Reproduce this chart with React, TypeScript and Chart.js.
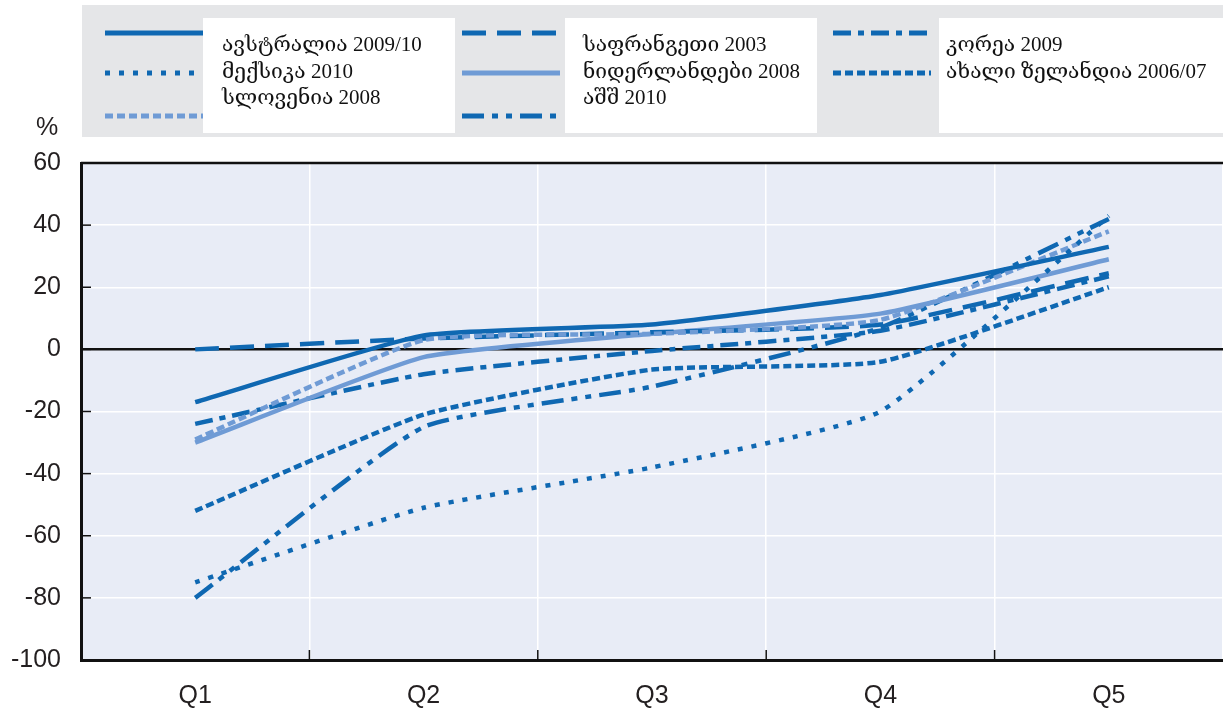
import React, { useEffect, useRef } from 'react';
import { Chart, registerables } from 'chart.js';
Chart.register(...registerables);

// ---- data ----
const categories = ['Q1', 'Q2', 'Q3', 'Q4', 'Q5'];
const australia = [-17, 4.5, 8, 17.5, 33];
const mexico = [-75, -51, -38, -20, 43];
const slovenia = [-29, 3, 5, 9.5, 38];
const france = [0, 3.5, 5.5, 8, 24.5];
const netherlands = [-30, -2.5, 5, 11.5, 29];
const usa = [-80, -25, -12, 7, 42];
const korea = [-24, -8, -0.5, 6, 23.5];
const newZealand = [-52, -21, -6.5, -4, 20];
const yMin = -100;
const yMax = 60;
const yStep = 20;
const unitLabel = '%';

const labels = {
  australia: 'ავსტრალია 2009/10',
  mexico: 'მექსიკა 2010',
  slovenia: 'სლოვენია 2008',
  france: 'საფრანგეთი 2003',
  netherlands: 'ნიდერლანდები 2008',
  usa: 'აშშ 2010',
  korea: 'კორეა 2009',
  newZealand: 'ახალი ზელანდია 2006/07',
};

const DARK = '#0f68b2';
const LIGHT = '#6f9bd5';
const AXIS_FONT = '"Liberation Sans Narrow", "Liberation Sans", Arial, sans-serif';

type S = { key: keyof typeof labels; data: number[]; color: string; dash: number[] };
const series: S[] = [
  { key: 'australia', data: australia, color: DARK, dash: [] },
  { key: 'mexico', data: mexico, color: DARK, dash: [5, 9] },
  { key: 'slovenia', data: slovenia, color: LIGHT, dash: [8, 4] },
  { key: 'france', data: france, color: DARK, dash: [24, 11] },
  { key: 'netherlands', data: netherlands, color: LIGHT, dash: [] },
  { key: 'usa', data: usa, color: DARK, dash: [22, 8, 6, 8, 6, 8] },
  { key: 'korea', data: korea, color: DARK, dash: [18, 7, 6, 7] },
  { key: 'newZealand', data: newZealand, color: DARK, dash: [8, 4] },
];

const legendColumns: (keyof typeof labels)[][] = [
  ['australia', 'mexico', 'slovenia'],
  ['france', 'netherlands', 'usa'],
  ['korea', 'newZealand'],
];

const decorPlugin = {
  id: 'decor',
  beforeDraw(chart: any) {
    const { ctx, chartArea: a } = chart;
    ctx.save();
    ctx.fillStyle = '#ffffff';
    ctx.fillRect(0, 0, chart.width, chart.height);
    ctx.fillStyle = '#e8ecf6';
    ctx.fillRect(a.left, a.top, a.right - a.left, a.bottom - a.top);

    // legend panel
    ctx.fillStyle = '#e5e6e8';
    ctx.fillRect(82, 5, chart.width - 82, 132);
    const cols = [
      { lineX0: 105, lineX1: 203, box: [203, 18, 252, 115], textX: 222 },
      { lineX0: 462, lineX1: 560, box: [565, 18, 252, 115], textX: 583 },
      { lineX0: 833, lineX1: 931, box: [939, 18, 284, 115], textX: 946 },
    ];
    const lineYs = [33, 73, 116];
    const textYs = [45, 72, 98];
    legendColumns.forEach((keys, ci) => {
      const c = cols[ci];
      ctx.fillStyle = '#ffffff';
      ctx.fillRect(c.box[0], c.box[1], c.box[2], c.box[3]);
      keys.forEach((k, ri) => {
        const s = series.find((x) => x.key === k)!;
        ctx.beginPath();
        ctx.setLineDash(s.dash);
        ctx.lineDashOffset = 0;
        ctx.lineCap = 'butt';
        ctx.strokeStyle = s.color;
        ctx.lineWidth = 5;
        ctx.moveTo(c.lineX0, lineYs[ri]);
        ctx.lineTo(c.lineX1, lineYs[ri]);
        ctx.stroke();
        ctx.setLineDash([]);
        ctx.fillStyle = '#111111';
        ctx.font = '21px "Liberation Serif", "DejaVu Serif", serif';
        ctx.textAlign = 'left';
        ctx.textBaseline = 'middle';
        ctx.fillText(labels[k], c.textX, textYs[ri]);
      });
    });

    ctx.fillStyle = '#231f20';
    ctx.font = '25px ' + AXIS_FONT;
    ctx.textAlign = 'center';
    ctx.textBaseline = 'middle';
    ctx.fillText(unitLabel, 47, 128);
    ctx.restore();
  },
  afterDraw(chart: any) {
    const { ctx, chartArea: a, scales } = chart;
    ctx.save();
    ctx.strokeStyle = '#111111';
    ctx.lineWidth = 1.5;
    // inward y ticks
    for (let v = yMin + yStep; v < yMax; v += yStep) {
      const y = scales.y.getPixelForValue(v);
      ctx.beginPath();
      ctx.moveTo(a.left, y);
      ctx.lineTo(a.left + 10, y);
      ctx.stroke();
    }
    // inward x ticks at category boundaries
    const xs = scales.x;
    for (let i = 1; i < categories.length; i++) {
      const x = (xs.getPixelForValue(i - 1) + xs.getPixelForValue(i)) / 2;
      ctx.beginPath();
      ctx.moveTo(x, a.bottom);
      ctx.lineTo(x, a.bottom - 10);
      ctx.stroke();
    }
    // top border
    ctx.lineWidth = 2.5;
    ctx.beginPath();
    ctx.moveTo(a.left, a.top);
    ctx.lineTo(a.right, a.top);
    ctx.stroke();
    ctx.restore();
  },
};

export default function App() {
  const ref = useRef<HTMLCanvasElement>(null);
  useEffect(() => {
    if (!ref.current) return;
    const chart = new Chart(ref.current, {
      type: 'line',
      data: {
        labels: categories,
        datasets: series.map((s) => ({
          label: labels[s.key],
          data: s.data,
          borderColor: s.color,
          backgroundColor: s.color,
          borderDash: s.dash,
          borderWidth: 4.5,
          borderCapStyle: 'butt' as const,
          pointRadius: 0,
          tension: 0.15,
          fill: false,
        })),
      },
      options: {
        animation: false,
        responsive: false,
        devicePixelRatio: 1,
        layout: { padding: { top: 163, left: 0, right: 0, bottom: 0 } },
        plugins: { legend: { display: false }, tooltip: { enabled: false } },
        scales: {
          x: {
            offset: true,
            grid: { offset: true, color: '#ffffff', lineWidth: 1.5, drawTicks: false },
            border: { color: '#111111', width: 3 },
            ticks: {
              color: '#231f20',
              padding: 21,
              font: { family: AXIS_FONT, size: 25 },
            },
            afterFit: (scale: any) => {
              scale.height = 48;
            },
          },
          y: {
            min: yMin,
            max: yMax,
            grid: {
              drawTicks: false,
              color: (c: any) => (c.tick && c.tick.value === 0 ? '#111111' : '#ffffff'),
              lineWidth: (c: any) => (c.tick && c.tick.value === 0 ? 2.5 : 1.5),
            },
            border: { color: '#111111', width: 3 },
            ticks: {
              stepSize: yStep,
              color: '#231f20',
              padding: 20,
              font: { family: AXIS_FONT, size: 25 },
            },
            afterFit: (scale: any) => {
              scale.width = 81;
            },
          },
        },
      },
      plugins: [decorPlugin],
    });
    return () => chart.destroy();
  }, []);
  return (
    <div style={{ position: 'absolute', left: 0, top: 0, width: 1223, height: 708 }}>
      <canvas ref={ref} width={1223} height={708} style={{ display: 'block' }} />
    </div>
  );
}
